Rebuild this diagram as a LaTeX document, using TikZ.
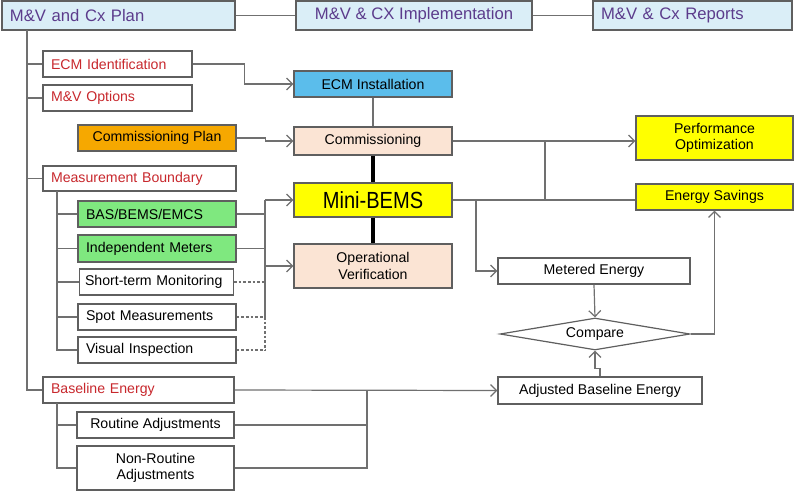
\documentclass[tikz,border=0pt]{standalone}
\usepackage{fontspec}
\setmainfont{Liberation Sans}
\usetikzlibrary{arrows.meta,shapes.geometric,calc}
\definecolor{tfill}{HTML}{DAEEF7}
\definecolor{tpurp}{HTML}{5C3C8C}
\definecolor{tred}{HTML}{C8282D}
\definecolor{bluef}{HTML}{5BBDEB}
\definecolor{orangef}{HTML}{F6A800}
\definecolor{greenf}{HTML}{7FE87F}
\definecolor{peachf}{HTML}{FBE4D4}
\definecolor{yel}{HTML}{FFFF00}
\definecolor{lgray}{HTML}{707070}
\definecolor{bgray}{HTML}{5F5F5F}
% box macro: name, x1, y1, x2, y2, style, text
\newcommand{\bx}[7]{\node[#6, minimum width={(#4-#2)*0.75pt}, minimum height={(#5-#3)*0.75pt}] (#1) at ({(#2+#4)/2},{(#3+#5)/2}) {#7};}
\newcommand{\lbx}[7]{\node[#6, text width={(#4-#2)*0.75pt-12pt}, minimum height={(#5-#3)*0.75pt}] (#1) at ({(#2+#4)/2},{(#3+#5)/2}) {#7};}
\tikzset{
  x=0.75pt, y=-0.75pt,
  bbox/.style={draw=bgray, line width=0.9pt, rectangle, inner sep=0pt, font=\fontsize{10.6}{12.5}\selectfont, align=center, fill=white},
  lbox/.style={bbox, align=left, inner xsep=6pt},
  tbox/.style={bbox, fill=tfill, text=tpurp, font=\fontsize{12.5}{15}\selectfont},
  ln/.style={draw=lgray, line width=0.9pt},
  dln/.style={ln, dash pattern=on 2pt off 1.5pt},
  thk/.style={draw=black, line width=2.4pt},
  arr/.style={ln, -{Straight Barb[length=4.5pt,width=9pt,line width=0.9pt]}},
}
\begin{document}
\begin{tikzpicture}
\useasboundingbox (0,0) rectangle (794,493);
% titles
\lbx{plan}{2}{1}{235}{30}{tbox, align=left, inner xsep=6pt}{M\&V and Cx Plan}
\bx{impl}{296}{1}{532}{30}{tbox}{M\&V \& CX Implementation}
\lbx{rep}{593}{1}{792}{30}{tbox, align=left, inner xsep=6pt}{M\&V \& Cx Reports}
\draw[ln] (plan.east) -- (impl.west);
\draw[ln] (impl.east) -- (rep.west);
% left column
\lbx{ecmid}{43}{51}{192}{77}{lbox, text=tred}{ECM Identification}
\lbx{mvopt}{43}{85}{192}{111}{lbox, text=tred}{M\&V Options}
\bx{cplan}{78}{125}{236}{151}{bbox, fill=orangef}{Commissioning Plan}
\lbx{mb}{43}{166}{236}{191}{lbox, text=tred}{Measurement Boundary}
\lbx{bas}{78}{201}{236}{227}{lbox, fill=greenf}{BAS/BEMS/EMCS}
\lbx{ind}{78}{235}{236}{262}{lbox, fill=greenf}{Independent Meters}
\lbx{stm}{77}{269}{236}{295}{lbox, inner xsep=4pt}{Short-term Monitoring}
\lbx{spot}{78}{304}{236}{330}{lbox}{Spot Measurements}
\lbx{vis}{78}{337}{236}{363}{lbox}{Visual Inspection}
\lbx{base}{43}{377}{234}{403}{lbox, text=tred}{Baseline Energy}
\bx{rout}{77}{412}{234}{438}{bbox}{Routine Adjustments}
\bx{nonr}{77}{446}{234}{490}{bbox}{Non-Routine\\Adjustments}
% middle column
\bx{ecminst}{294}{71}{452}{97}{bbox, fill=bluef}{ECM Installation}
\bx{comm}{294}{127}{452}{155}{bbox, fill=peachf}{Commissioning}
\bx{mini}{294}{183}{452}{217}{bbox, fill=yel, font=\fontsize{17.5}{20}\selectfont}{\scalebox{0.86}[1]{Mini-BEMS}}
\bx{opver}{294}{244}{452}{288}{bbox, fill=peachf}{Operational\\Verification}
% right column
\bx{perf}{636}{116}{793}{160}{bbox, fill=yel}{Performance\\Optimization}
\bx{es}{636}{184}{793}{210}{bbox, fill=yel}{Energy Savings}
\bx{met}{498}{258}{690}{284}{bbox}{Metered Energy}
\node[diamond, draw=bgray, line width=0.9pt, fill=white, inner sep=0pt, aspect=5.9, minimum width=142.5pt, minimum height=24pt, font=\fontsize{10.6}{12.5}\selectfont] (cmp) at (595,334) {Compare};
\bx{adj}{498}{377}{702}{404}{bbox}{Adjusted Baseline Energy}
% main trunk
\coordinate (t0) at (27,30);
\draw[ln] (t0) |- (base.west);
\foreach \n in {ecmid,mvopt,mb} \draw[ln] (t0 |- \n.west) -- (\n.west);
% measurement boundary sub-trunk
\coordinate (t1) at (57,191);
\draw[ln] (t1) |- (vis.west);
\foreach \n in {bas,ind,stm,spot} \draw[ln] (t1 |- \n.west) -- (\n.west);
% baseline sub-trunk
\coordinate (t2) at (57,403);
\draw[ln] (t2) |- (nonr.west);
\draw[ln] (t2 |- rout.west) -- (rout.west);
% bus to Mini-BEMS / Operational Verification
\coordinate (bus) at (265,200);
\draw[ln] (bas.east) -- (bas.east -| bus);
\draw[ln] (ind.east) -- (ind.east -| bus);
\draw[dln] (stm.east) -- (stm.east -| bus);
\draw[dln] (spot.east) -- (spot.east -| bus);
\draw[dln] (vis.east) -- (vis.east -| bus);
\draw[ln] (bus) -- (bus |- spot.east);
\draw[dln] (bus |- spot.east) -- (bus |- vis.east);
\draw[arr] (bus) -- (mini.west);
\draw[arr] (bus |- opver.west) -- (opver.west);
% ECM and commissioning
\draw[arr] (ecmid.east) -- ++(52,0) |- (ecminst.west);
\draw[arr] (cplan.east) -- ++(29,0) |- (comm.west);
\draw[ln] (ecminst.south) -- (comm.north);
\draw[thk] (comm.south) -- (mini.north);
\draw[thk] (mini.south) -- (opver.north);
% right side
\coordinate (j1) at (545,200);
\coordinate (j2) at (476,200);
\draw[arr] (comm.east) -- (perf.west |- comm.east);
\draw[ln] (mini.east) -- (es.west |- mini.east);
\draw[ln] (j1) -- (j1 |- comm.east);
\draw[arr] (j2) |- (met.west);
\draw[arr] (met.south) -- (cmp.north);
\draw[arr] (cmp.east) -| (es.south);
\draw[arr] (adj.north) -- ++(0,-8) -| (cmp.south);
% baseline
\coordinate (j3) at (367,390);
\draw[arr] (base.east) -- (adj.west);
\draw[ln] (rout.east) -- (rout.east -| j3);
\draw[ln] (nonr.east) -| (j3);
\end{tikzpicture}
\end{document}
